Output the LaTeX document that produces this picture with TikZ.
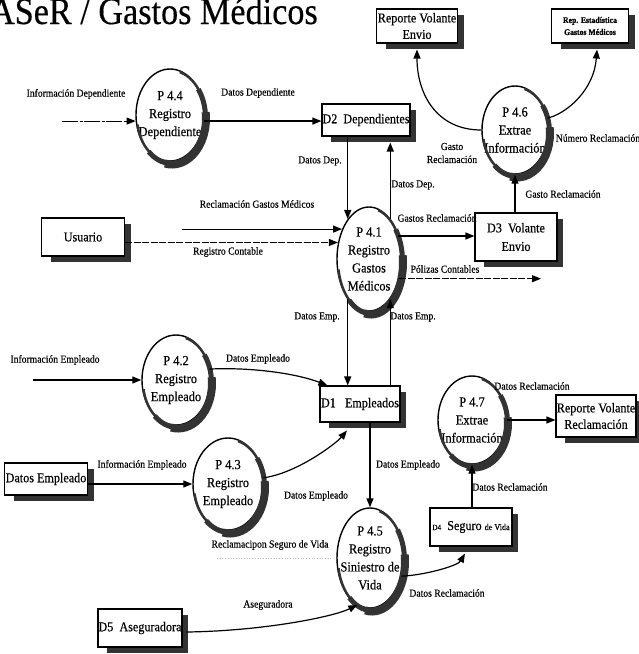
\documentclass[tikz,border=0pt]{standalone}
\usepackage{fontspec}
\setmainfont{Liberation Serif}[FakeStretch=0.9, FakeBold=0.35]
\usetikzlibrary{arrows.meta,shapes.geometric}
\definecolor{shadowc}{gray}{0.2}
\tikzset{
  box/.style={rectangle, draw=black, line width=1.1pt, fill=white, inner xsep=0.5pt, inner ysep=0pt, align=center,
    font=\fontsize{13.5}{16.5}\selectfont},
  proc/.style={ellipse, draw=black, line width=1.4pt, fill=white, inner sep=0pt},
  ptext/.style={align=center, inner sep=0pt, font=\fontsize{13.8}{18}\selectfont},
  lbl/.style={inner sep=0pt, align=center, font=\fontsize{10.7}{12}\selectfont},
  flow/.style={line width=1.2pt, -{Triangle[length=9pt,width=7pt]}},
  dflow/.style={line width=1pt, dash pattern=on 7pt off 1.5pt, -{Triangle[length=9pt,width=7pt]}},
  lflow/.style={line width=0.9pt, dash pattern=on 16pt off 1.5pt on 3pt off 1.5pt, -{Triangle[length=9pt,width=7pt]}},
  shad/.style={draw=shadowc, line width=5.5pt},
}
\begin{document}
\begin{tikzpicture}[x=1pt, y=-1pt]
\useasboundingbox (0,0) rectangle (639,654);

% title
\node[anchor=base east, inner sep=0pt, font=\fontsize{38}{40}\selectfont] (title) at (318,24) {ASeR / Gastos Médicos};

% boxes
\node[box, minimum width=81pt, minimum height=34pt] (RVE) at (417,26) {Reporte Volante\\Envio};
\node[box, minimum width=77pt, minimum height=34pt, font=\bfseries\fontsize{8.6}{12}\selectfont] (RE) at (590,26) {Rep. Estadística\\Gastos Médicos};
\node[box, minimum width=87pt, minimum height=32pt] (D2) at (366,120) {D2\ \ Dependientes};
\node[box, minimum width=83pt, minimum height=38pt] (Usuario) at (83,237) {Usuario};
\node[box, minimum width=82pt, minimum height=48pt] (D3) at (516,237) {D3\ \ Volante\\[2pt]Envio};
\node[box, minimum width=80pt, minimum height=36pt] (D1) at (360,404) {D1\ \ \ Empleados};
\node[box, minimum width=80pt, minimum height=42pt] (RVR) at (596,416) {Reporte Volante\\Reclamación};
\node[box, minimum width=83pt, minimum height=32pt] (DE) at (46,479) {Datos Empleado};
\node[box, minimum width=82pt, minimum height=38pt] (D4) at (471,527) {{\fontsize{8}{9}\selectfont D4}\ \ Seguro {\fontsize{9}{10}\selectfont de Vida}};
\node[box, minimum width=81pt, minimum height=38pt] (D5) at (140,628) {D5\ \ Aseguradora};
\foreach \b in {RVE,RE,D2,Usuario,D3,D1,RVR,DE,D4,D5}{
  \draw[shad] ([shift={(2.75,7)}]\b.north east) -- ([shift={(2.75,2.75)}]\b.south east) -- ([shift={(10,2.75)}]\b.south west);
}

% processes
\foreach \n/\x/\y/\rx/\ry/\t in {
  P44/170/115/34/46/{P 4.4\\Registro\\Dependiente},
  P46/515/130/33/44/{P 4.6\\Extrae\\Información},
  P41/369/259/32/52/{P 4.1\\Registro\\Gastos\\Médicos},
  P42/176/380/34/45/{P 4.2\\Registro\\Empleado},
  P47/472/420/34/44/{P 4.7\\Extrae\\Información},
  P43/228/484/35/46/{P 4.3\\Registro\\Empleado},
  P45/370/558/33/50/{P 4.5\\Registro\\Siniestro de\\Vida}}{
  \node[proc, minimum width=2*\rx pt, minimum height=2*\ry pt] (\n) at (\x,\y) {};
  \node[ptext] (\n t) at (\n) {\t};
  \foreach \a/\e/\w/\dx/\dy in {75/-170/2.5/1/1.5, 38/-132/5/1.5/2.5, 8/-102/8/2/3.5}{
    \draw[draw=shadowc, line width=\w pt]
      ([shift={({\rx*cos(\a)+\dx},{-\ry*sin(\a)+\dy})}]\n.center)
      arc[start angle=\a, end angle=\e, x radius=\rx pt, y radius=\ry pt];
  }
}

% free ends
\coordinate (cID) at (62,0);
\coordinate (cRGM) at (182,0);
\coordinate (cPol) at (541,0);
\coordinate (cIE) at (33,0);
\coordinate (cRS1) at (217,558);
\coordinate (cRS2) at (332,558);

% connectors
\draw[lflow] (cID |- P44.190) -- (P44.190);
\draw[flow] (P44.350) -- (P44.350 -| D2.west);
\draw[flow] (cRGM |- P41.132) -- (P41.132);
\draw[dflow] (Usuario.east |- P41.152) -- (P41.152);
\draw[flow] (D2.south -| P41.118) -- (P41.118);
\draw[flow] (P41.62) -- ([yshift=-6pt]P41.62 |- D2.south);
\draw[flow] (P41.38) -- (P41.38 -| D3.west);
\draw[dflow] (P41.327) -- (P41.327 -| cPol);
\draw[flow] (P46.south |- D3.north) -- (P46.south);
\draw[flow] (P46.180) .. controls ([shift={(-45,0)}]P46.180) and ([shift={(0,50)}]RVE.south) .. ([shift={(0,6)}]RVE.south);
\draw[flow] (P46.20) .. controls ([shift={(20,-5)}]P46.20) and ([shift={(4,46)}]RE.south) .. ([shift={(7,6)}]RE.south);
\draw[flow] (P41.242) -- (P41.242 |- D1.north);
\draw[flow] (P41.298 |- D1.north) -- (P41.298);
\draw[flow] (cIE |- P42.west) -- (P42.west);
\draw[flow] (P42.18) .. controls ([shift={(41,-2)}]P42.18) and ([shift={(-23,-12)}]D1.north west) .. ([shift={(8,0)}]D1.north west);
\draw[flow] (DE.east |- P43.west) -- (P43.west);
\draw[flow] (P43.10) .. controls ([shift={(32,-4)}]P43.10) and ([shift={(-25,22)}]D1.south) .. ([shift={(-13,8)}]D1.south);
\draw[flow] (D1.south -| P45.north) -- (P45.north);
\draw[flow] (P45.330) .. controls ([shift={(24,-1)}]P45.330) and ([shift={(-13,19)}]D4.south) .. ([shift={(-6,7)}]D4.south);
\draw[flow] (P47.south |- D4.north) -- (P47.south);
\draw[flow] (P47.east) -- (P47.east -| RVR.west);
\draw[flow] ([shift={(4,4)}]D5.east) .. controls ([shift={(80,3)}]D5.east) and ([shift={(-25,12)}]P45.255) .. (P45.255);
\draw[gray!55, line width=0.7pt, dotted] (cRS1) -- (cRS2);

% labels
\node[lbl] (l1) at (76,94) {Información Dependiente};
\node[lbl] (l2) at (258,93) {Datos Dependiente};
\node[lbl] (l3) at (320,161) {Datos Dep.};
\node[lbl] (l4) at (413,185) {Datos Dep.};
\node[lbl] (l5) at (452,153) {Gasto\\[1pt]Reclamación};
\node[lbl] (l6) at (598,138) {Número Reclamación};
\node[lbl] (l7) at (563,194) {Gasto Reclamación};
\node[lbl] (l8) at (257,204) {Reclamación Gastos Médicos};
\node[lbl] (l9) at (228,252) {Registro Contable};
\node[lbl] (l10) at (437,218) {Gastos Reclamación};
\node[lbl] (l11) at (445,269) {Pólizas Contables};
\node[lbl] (l12) at (317,317) {Datos Emp.};
\node[lbl] (l13) at (413,317) {Datos Emp.};
\node[lbl] (l14) at (55,360) {Información Empleado};
\node[lbl] (l15) at (258,359) {Datos Empleado};
\node[lbl] (l16) at (532,386) {Datos Reclamación};
\node[lbl] (l17) at (142,465) {Información Empleado};
\node[lbl] (l18) at (408,465) {Datos Empleado};
\node[lbl] (l19) at (316,496) {Datos Empleado};
\node[lbl] (l20) at (510,487) {Datos Reclamación};
\node[lbl] (l21) at (270,545) {Reclamacipon Seguro de Vida};
\node[lbl] (l22) at (447,593) {Datos Reclamación};
\node[lbl] (l23) at (268,605) {Aseguradora};
\end{tikzpicture}
\end{document}
